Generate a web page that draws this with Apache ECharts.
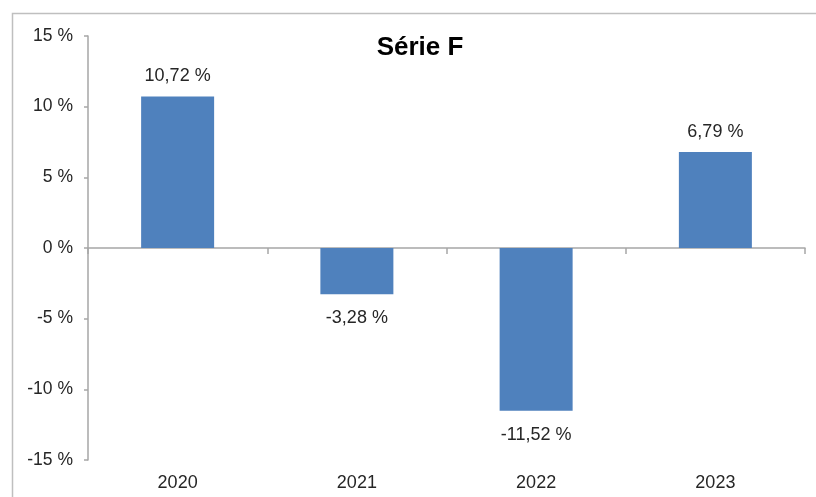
<!DOCTYPE html>
<html>
<head>
<meta charset="utf-8">
<script src="https://cdn.jsdelivr.net/npm/echarts@6/dist/echarts.min.js"></script>
<style>
html,body{margin:0;padding:0;background:#fff;}
#chart{width:816px;height:497px;}
</style>
</head>
<body>
<div id="chart"></div>
<script>
const titleText = "Série F";
const categories = ["2020", "2021", "2022", "2023"];
const values = [10.72, -3.28, -11.52, 6.79];
const yTicks = [-15, -10, -5, 0, 5, 10, 15];

const fmt = v => v.toFixed(2).replace('.', ',') + ' %';
const textColor = '#262626';
const axisColor = '#a6a6a6';
const font = '"Liberation Sans", Arial, sans-serif';

const chart = echarts.init(document.getElementById('chart'), null, {renderer: 'canvas'});
chart.setOption({
  backgroundColor: '#ffffff',
  animation: false,
  title: {
    text: titleText,
    left: 415, top: 30, textAlign: 'center',
    textStyle: {fontFamily: font, fontSize: 26, fontWeight: 'bold', color: '#000'}
  },
  graphic: [{
    type: 'rect', left: 10, top: 11, silent: true,
    shape: {width: 830, height: 520},
    style: {fill: 'none', stroke: '#bfbfbf', lineWidth: 1.5}
  }],
  grid: {left: 88, right: 11, top: 36, bottom: 37},
  xAxis: [{
    type: 'category', data: categories,
    axisLine: {onZero: true, lineStyle: {color: axisColor, width: 1.5}},
    axisTick: {show: true, length: 6, alignWithLabel: false, lineStyle: {color: axisColor, width: 1.5}},
    axisLabel: {show: false},
    splitLine: {show: false}
  }, {
    type: 'category', data: categories, position: 'bottom',
    axisLine: {show: false, onZero: false},
    axisTick: {show: false},
    axisLabel: {margin: 14, fontFamily: font, fontSize: 18, color: textColor},
    splitLine: {show: false}
  }],
  yAxis: {
    type: 'value', min: yTicks[0], max: yTicks[yTicks.length - 1], interval: 5,
    axisLine: {show: true, lineStyle: {color: axisColor, width: 1.5}},
    axisTick: {show: true, length: 4, lineStyle: {color: axisColor, width: 1.5}},
    axisLabel: {margin: 15, fontFamily: font, fontSize: 17.5, color: textColor,
      formatter: v => v + ' %'},
    splitLine: {show: false}
  },
  series: [{
    type: 'bar', xAxisIndex: 0,
    barWidth: 73,
    itemStyle: {color: '#4f81bd'},
    data: values.map(v => ({
      value: v,
      label: {show: true, position: v >= 0 ? 'top' : 'bottom', distance: v >= 0 ? 11 : 15,
        fontFamily: font, fontSize: 18, color: textColor, formatter: () => fmt(v)}
    }))
  }]
});
</script>
</body>
</html>
